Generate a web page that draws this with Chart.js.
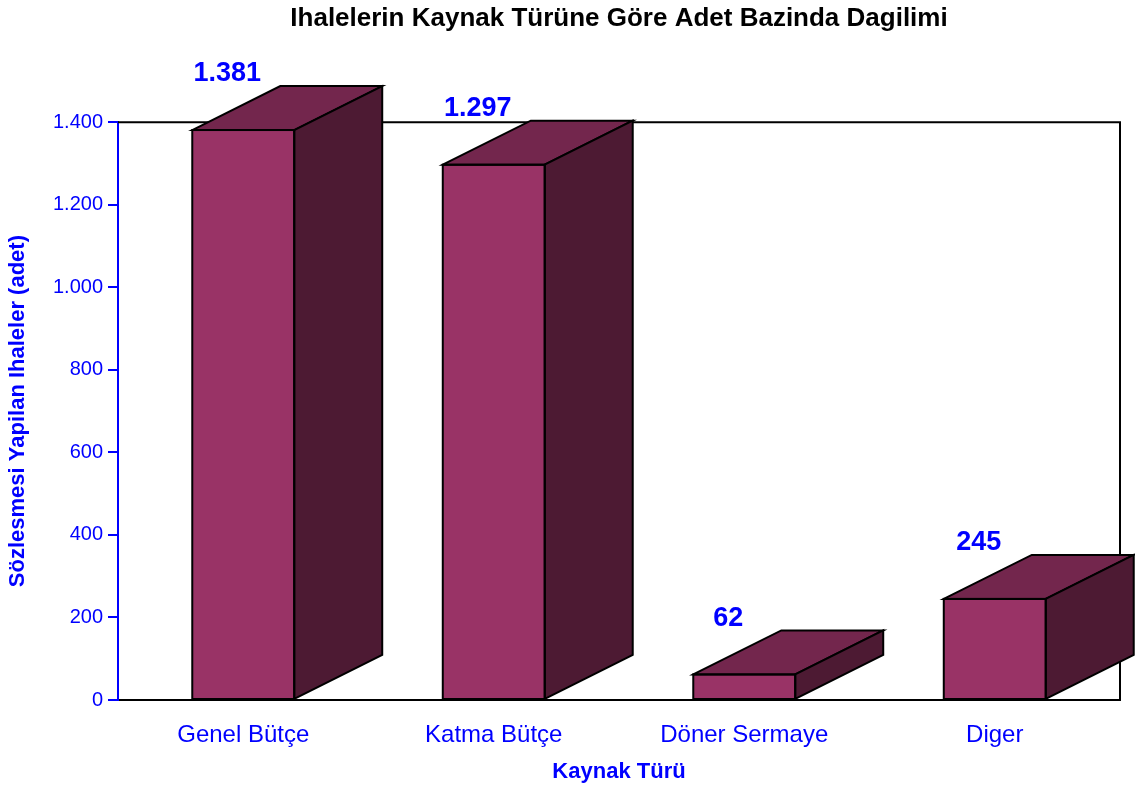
<!DOCTYPE html>
<html>
<head>
<meta charset="utf-8">
<script src="https://cdn.jsdelivr.net/npm/chart.js@4.4.1/dist/chart.umd.min.js"></script>
<style>
  html, body { margin: 0; padding: 0; background: #ffffff; }
  #wrap { width: 1135px; height: 788px; position: relative; }
</style>
</head>
<body>
<div id="wrap"><canvas id="c"></canvas></div>
<script>
const categories = ['Genel Bütçe', 'Katma Bütçe', 'Döner Sermaye', 'Diger'];
const values = [1381, 1297, 62, 245];
const valueLabels = ['1.381', '1.297', '62', '245'];
const yTickValues = [0, 200, 400, 600, 800, 1000, 1200, 1400];
const yTickLabels = ['0', '200', '400', '600', '800', '1.000', '1.200', '1.400'];
const chartTitle = 'Ihalelerin Kaynak Türüne Göre Adet Bazinda Dagilimi';
const xTitle = 'Kaynak Türü';
const yTitle = 'Sözlesmesi Yapilan Ihaleler (adet)';

const FONT = '"Liberation Sans", Arial, Helvetica, sans-serif';
const BLUE = '#0000FF';
const FRONT = '#993366';
const TOP = '#73264D';
const SIDE = '#4D1A33';
const DEPTH_X = 88;
const DEPTH_Y = 44;

const frameLines = {
  id: 'frameLines',
  beforeDatasetsDraw(chart) {
    const a = chart.chartArea;
    const ctx = chart.ctx;
    ctx.save();
    ctx.strokeStyle = '#000000';
    ctx.lineWidth = 2;
    ctx.beginPath();
    ctx.moveTo(a.left, a.top);
    ctx.lineTo(a.right, a.top);
    ctx.lineTo(a.right, a.bottom);
    ctx.stroke();
    ctx.restore();
  }
};

const bars3d = {
  id: 'bars3d',
  afterDatasetsDraw(chart) {
    const ctx = chart.ctx;
    const meta = chart.getDatasetMeta(0);
    ctx.save();
    ctx.lineWidth = 2;
    ctx.strokeStyle = '#000000';
    ctx.lineJoin = 'miter';
    meta.data.forEach((bar, i) => {
      const p = bar.getProps(['x', 'y', 'base', 'width'], true);
      const l = p.x - p.width / 2, r = p.x + p.width / 2;
      const t = p.y, b = p.base;
      // top face
      ctx.beginPath();
      ctx.moveTo(l, t);
      ctx.lineTo(l + DEPTH_X, t - DEPTH_Y);
      ctx.lineTo(r + DEPTH_X, t - DEPTH_Y);
      ctx.lineTo(r, t);
      ctx.closePath();
      ctx.fillStyle = TOP;
      ctx.fill();
      ctx.stroke();
      // side face
      ctx.beginPath();
      ctx.moveTo(r, t);
      ctx.lineTo(r + DEPTH_X, t - DEPTH_Y);
      ctx.lineTo(r + DEPTH_X, b - DEPTH_Y);
      ctx.lineTo(r, b);
      ctx.closePath();
      ctx.fillStyle = SIDE;
      ctx.fill();
      ctx.stroke();
      // front outline
      ctx.strokeRect(l, t, r - l, b - t);
      // value label
      ctx.fillStyle = BLUE;
      ctx.font = 'bold 27px ' + FONT;
      ctx.textAlign = 'center';
      ctx.textBaseline = 'middle';
      ctx.fillText(valueLabels[i], p.x - 16, t - 56);
    });
    ctx.restore();
  }
};

new Chart(document.getElementById('c'), {
  type: 'bar',
  data: {
    labels: categories,
    datasets: [{
      data: values,
      backgroundColor: FRONT,
      borderColor: '#000000',
      borderWidth: 0,
      categoryPercentage: 1,
      barPercentage: 0.407
    }]
  },
  options: {
    responsive: true,
    maintainAspectRatio: false,
    animation: false,
    layout: { padding: { left: 0, right: 15, top: 0, bottom: 0 } },
    plugins: {
      legend: { display: false },
      tooltip: { enabled: false },
      title: {
        display: true,
        text: chartTitle,
        fullSize: false,
        color: '#000000',
        font: { family: FONT, size: 26, weight: 'bold', lineHeight: 1.2 },
        padding: { top: 3, bottom: 88 }
      }
    },
    scales: {
      x: {
        grid: { display: false },
        border: { display: true, color: '#000000', width: 2 },
        ticks: { color: BLUE, font: { family: FONT, size: 24 }, padding: 13, maxRotation: 0, autoSkip: false },
        title: {
          display: true, text: xTitle, color: BLUE,
          font: { family: FONT, size: 22, weight: 'bold', lineHeight: 1.2 },
          padding: { top: 0, bottom: 3 }
        },
        afterFit(scale) { scale.height = 88; }
      },
      y: {
        min: 0, max: 1400,
        afterBuildTicks(scale) { scale.ticks = yTickValues.map(v => ({ value: v })); },
        grid: { display: true, drawOnChartArea: false, drawTicks: true, tickLength: 10, color: BLUE, lineWidth: 2 },
        border: { display: true, color: BLUE, width: 2 },
        ticks: {
          color: BLUE, font: { family: FONT, size: 20 }, padding: 5,
          callback(value, index) { return yTickLabels[index]; }
        },
        title: {
          display: true, text: yTitle, color: BLUE,
          font: { family: FONT, size: 22, weight: 'bold', lineHeight: 1.2 },
          padding: { top: 5, bottom: 0 }
        },
        afterFit(scale) { scale.width = 118; }
      }
    }
  },
  plugins: [frameLines, bars3d]
});
</script>
</body>
</html>
